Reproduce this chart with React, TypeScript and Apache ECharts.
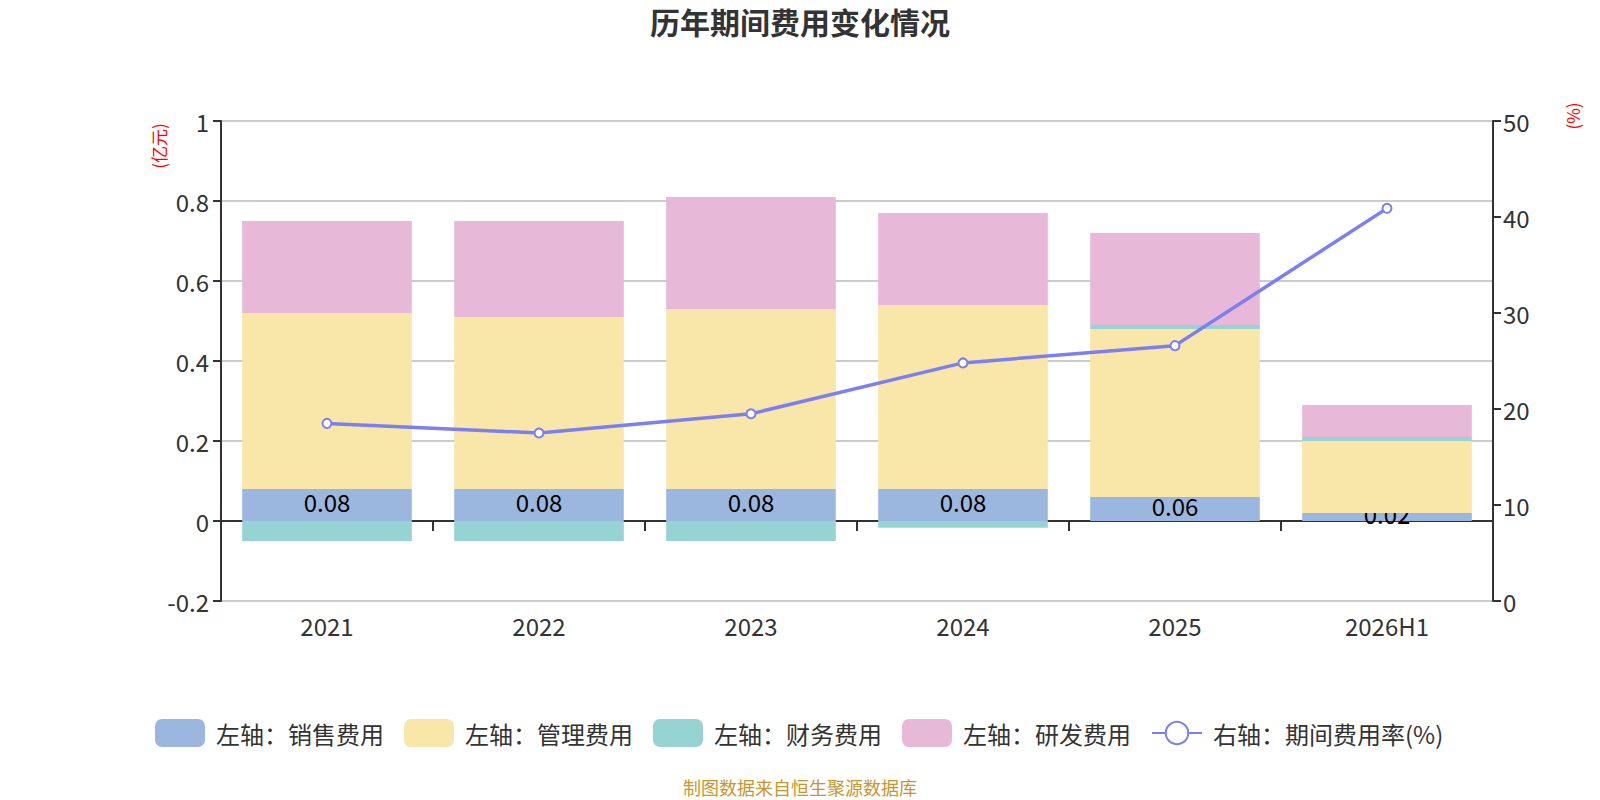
import React, { useEffect, useRef } from "react";
import * as echarts from "echarts";

const categories = ["2021", "2022", "2023", "2024", "2025", "2026H1"];
const salesExpense = [0.08, 0.08, 0.08, 0.08, 0.06, 0.02];
const adminExpense = [0.44, 0.43, 0.45, 0.46, 0.42, 0.18];
const financeExpense = [-0.05, -0.05, -0.05, -0.017, 0.01, 0.01];
const rdExpense = [0.23, 0.24, 0.28, 0.23, 0.23, 0.08];
const expenseRate = [18.5, 17.5, 19.5, 24.8, 26.6, 40.9];

const FONT = "'Noto Sans CJK SC', 'Noto Sans', sans-serif";

export default function App() {
  const ref = useRef<HTMLDivElement>(null);
  useEffect(() => {
    document.body.style.margin = "0";
    const chart = echarts.init(ref.current!, undefined, { renderer: "svg" });
    const barBase = (name: string, data: number[], color: string, z: number) => ({
      name,
      type: "bar",
      stack: "fee",
      data,
      barWidth: "80%",
      z,
      itemStyle: { color },
    });
    chart.setOption({
      animation: false,
      textStyle: { fontFamily: FONT },
      title: {
        text: "历年期间费用变化情况",
        left: "center",
        top: 1,
        textStyle: { fontSize: 30, fontWeight: "bold", color: "#333", fontFamily: FONT },
      },
      grid: { left: 221, right: 107, top: 121, bottom: 199 },
      legend: {
        bottom: 48,
        left: 150,
        itemWidth: 50,
        itemHeight: 28,
        itemGap: 20,
        textStyle: { fontSize: 24, color: "#333", fontFamily: FONT, padding: [0, 0, 0, 6] },
        data: [
          { name: "左轴：销售费用", icon: "roundRect" },
          { name: "左轴：管理费用", icon: "roundRect" },
          { name: "左轴：财务费用", icon: "roundRect" },
          { name: "左轴：研发费用", icon: "roundRect" },
          { name: "右轴：期间费用率(%)" },
        ],
      },
      xAxis: {
        type: "category",
        data: categories,
        axisLine: { onZero: true, lineStyle: { color: "#333", width: 2 } },
        axisTick: { show: true, length: 10, lineStyle: { color: "#333", width: 2 } },
        axisLabel: { margin: 12, fontSize: 24, color: "#333", fontFamily: FONT },
      },
      yAxis: [
        {
          type: "value",
          min: -0.2,
          max: 1,
          interval: 0.2,
          axisLine: { show: true, lineStyle: { color: "#333", width: 2 } },
          axisTick: { show: true, length: 8, lineStyle: { color: "#333", width: 2 } },
          axisLabel: { fontSize: 24, color: "#333", margin: 12, fontFamily: FONT },
          splitLine: { show: true, lineStyle: { color: "#ccc", width: 2 } },
        },
        {
          type: "value",
          min: 0,
          max: 50,
          interval: 10,
          position: "right",
          axisLine: { show: true, lineStyle: { color: "#333", width: 2 } },
          axisTick: { show: true, length: 8, lineStyle: { color: "#333", width: 2 } },
          axisLabel: { fontSize: 24, color: "#333", margin: 10, fontFamily: FONT },
          splitLine: { show: false },
        },
      ],
      graphic: [
        {
          type: "text",
          x: 158,
          y: 146,
          rotation: Math.PI / 2,
          style: {
            text: "(亿元)",
            fill: "#ff0000",
            fontSize: 17,
            fontFamily: FONT,
            align: "center",
            verticalAlign: "middle",
          },
        },
        {
          type: "text",
          x: 1572,
          y: 116,
          rotation: Math.PI / 2,
          style: {
            text: "(%)",
            fill: "#ff0000",
            fontSize: 17,
            fontFamily: FONT,
            align: "center",
            verticalAlign: "middle",
          },
        },
        {
          type: "text",
          x: 800,
          y: 787,
          style: {
            text: "制图数据来自恒生聚源数据库",
            fill: "#c9952f",
            fontSize: 18,
            fontFamily: FONT,
            align: "center",
            verticalAlign: "middle",
          },
        },
      ],
      series: [
        {
          ...barBase("左轴：销售费用", salesExpense, "#9bb7e0", 1),
          label: {
            show: true,
            position: "inside",
            offset: [0, -4],
            color: "#000",
            fontSize: 24,
            fontFamily: FONT,
            formatter: (p: any) => Number(p.value).toFixed(2),
          },
        },
        barBase("左轴：管理费用", adminExpense, "#f8e7a8", 2),
        barBase("左轴：财务费用", financeExpense, "#96d3d3", 2),
        barBase("左轴：研发费用", rdExpense, "#e7b8d8", 2),
        {
          name: "右轴：期间费用率(%)",
          type: "line",
          yAxisIndex: 1,
          data: expenseRate,
          z: 5,
          symbol: "emptyCircle",
          symbolSize: 9,
          lineStyle: { color: "#7b7ff2", width: 3.5 },
          itemStyle: { color: "#7b7ff2", borderWidth: 2 },
        },
      ],
    });
    return () => chart.dispose();
  }, []);
  return (
    <div
      ref={ref}
      style={{ position: "fixed", left: 0, top: 0, width: 1600, height: 800, background: "#fff" }}
    />
  );
}
